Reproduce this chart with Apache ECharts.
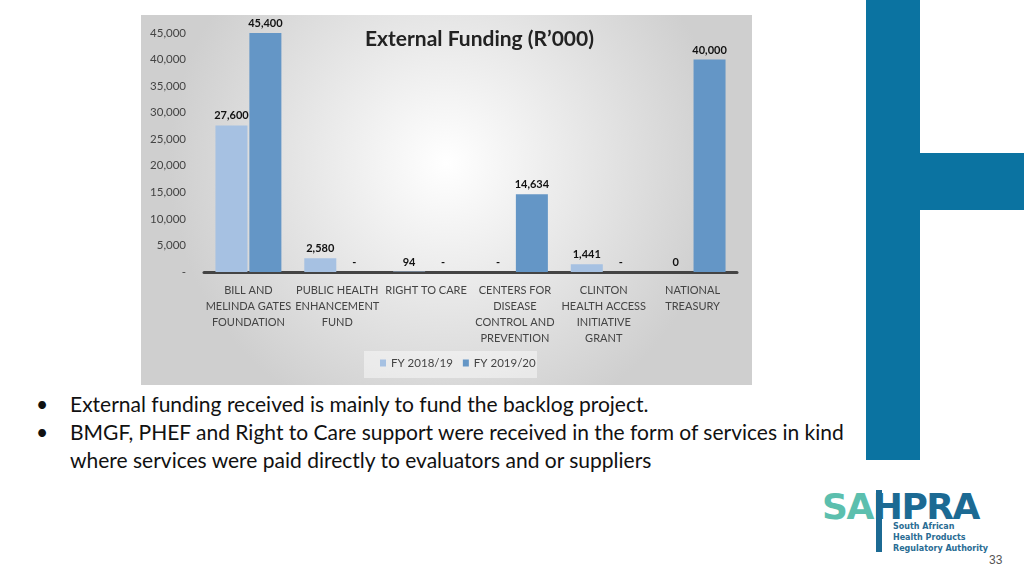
<!DOCTYPE html>
<html><head><meta charset="utf-8">
<script src="https://cdn.jsdelivr.net/npm/echarts@6/dist/echarts.min.js"></script>
<style>
body{margin:0;width:1024px;height:576px;position:relative;background:#fff;font-family:Lato,"Open Sans",sans-serif;overflow:hidden}
#chart{position:absolute;left:141px;top:15px;width:611px;height:370px}
.bul{position:absolute;left:36px;font-size:21px;color:#111;line-height:28px;white-space:nowrap}
.bul span{position:absolute;left:0}
.bul div{margin-left:34px}
</style></head><body>
<div id="chart"></div>
<div class="bul" style="top:390px"><span>•</span><div>External funding received is mainly to fund the backlog project.</div></div>
<div class="bul" style="top:418px"><span>•</span><div>BMGF, PHEF and Right to Care support were received in the form of services in kind<br>where services were paid directly to evaluators and or suppliers</div></div>
<div style="position:absolute;left:866px;top:0;width:54px;height:460px;background:#0b73a1"></div>
<div style="position:absolute;left:920px;top:153px;width:104px;height:57px;background:#0b73a1"></div>
<div style="position:absolute;left:822px;top:486px;font:bold 36px 'DejaVu Sans',sans-serif;letter-spacing:-1.5px"><span style="color:#5cbfae">SA</span><span style="color:#1c6a93">HPRA</span></div>
<div style="position:absolute;left:876px;top:490px;width:6px;height:62px;background:#1c6a93"></div>
<div style="position:absolute;left:893px;top:521px;font:bold 8px 'DejaVu Sans',sans-serif;color:#2a6c93;line-height:11px">South African<br>Health Products<br>Regulatory Authority</div>
<div style="position:absolute;left:989px;top:553px;font:12px 'Liberation Sans',sans-serif;color:#555">33</div>
<script>
var categories = ['BILL AND\nMELINDA GATES\nFOUNDATION','PUBLIC HEALTH\nENHANCEMENT\nFUND','RIGHT TO CARE','CENTERS FOR\nDISEASE\nCONTROL AND\nPREVENTION','CLINTON\nHEALTH ACCESS\nINITIATIVE\nGRANT','NATIONAL\nTREASURY'];
var fy1819 = [27600, 2580, 94, 0, 1441, 0];
var fy1920 = [45400, 0, 0, 14634, 0, 40000];
var labels1819 = ['27,600','2,580','94','-','1,441','0'];
var labels1920 = ['45,400','-','-','14,634','-','40,000'];

var chart = echarts.init(document.getElementById('chart'));
var lbl = function (arr) {
  return {show: true, position: 'top', distance: 4, color: '#111', fontWeight: 'bold', fontSize: 11,
    fontFamily: 'Lato', formatter: function (p) { return arr[p.dataIndex]; }};
};
chart.setOption({
  textStyle: {fontFamily: 'Lato'},
  graphic: [{type: 'rect', z: -10, shape: {x: 0, y: 0, width: 611, height: 370},
    style: {fill: {type: 'radial', x: 0.5, y: 0.4, r: 0.75,
      colorStops: [{offset: 0, color: '#ffffff'}, {offset: 1, color: '#cfcfcf'}]}}},
    {type: 'rect', z: -5, shape: {x: 223, y: 336, width: 173, height: 27}, style: {fill: 'rgba(255,255,255,0.45)'}}],
  title: {text: 'External Funding (R’000)', left: 219, top: 9,
    textStyle: {fontSize: 21, fontWeight: 'bold', color: '#222', fontFamily: 'Lato'}},
  legend: {bottom: 11, left: 234, icon: 'rect', itemWidth: 6, itemHeight: 7, itemGap: 10,
    textStyle: {fontSize: 11.5, color: '#444'}, data: ['FY 2018/19', 'FY 2019/20']},
  grid: {left: 63, right: 15, top: 18, bottom: 113, containLabel: false},
  xAxis: {type: 'category', data: categories,
    axisLine: {lineStyle: {color: '#444', width: 3}}, axisTick: {show: false},
    axisLabel: {interval: 0, color: '#444', fontSize: 11, lineHeight: 16, margin: 10,
      fontFamily: 'Lato', letterSpacing: -0.4}},
  yAxis: {type: 'value', min: 0, max: 45000, interval: 5000,
    axisLabel: {color: '#444', fontSize: 11.5, margin: 18,
      formatter: function (v) { return v === 0 ? '-' : v.toLocaleString('en-US'); }},
    splitLine: {show: false}, axisLine: {show: false}},
  series: [
    {name: 'FY 2018/19', type: 'bar', data: fy1819, barWidth: 32, barGap: '6%',
      itemStyle: {color: '#a6c1e2'}, label: lbl(labels1819)},
    {name: 'FY 2019/20', type: 'bar', data: fy1920, barWidth: 32,
      itemStyle: {color: '#6496c6'}, label: lbl(labels1920)}
  ]
});
</script></body></html>
